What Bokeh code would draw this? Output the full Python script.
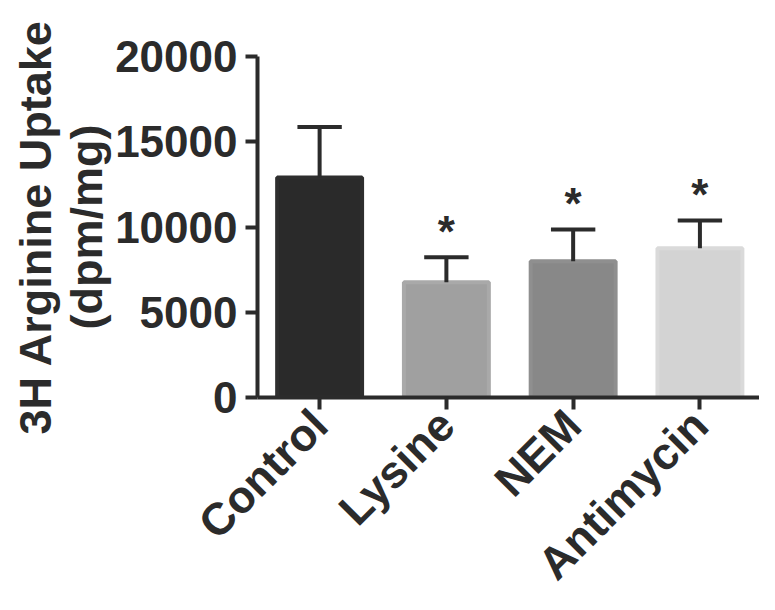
from bokeh.plotting import figure
from bokeh.models import Range1d, FixedTicker, ColumnDataSource
from bokeh.embed import file_html
from bokeh.resources import INLINE
from bokeh.core.properties import value
import math

categories = ["Control", "Lysine", "NEM", "Antimycin"]
means = [12900, 6760, 7990, 8750]
sem = [2960, 1460, 1860, 1630]
significant = [False, True, True, True]
y_ticks = [0, 5000, 10000, 15000, 20000]

fill_colors = ["#2a2a2a", "#a0a0a0", "#888888", "#d3d3d3"]
edge_colors = ["#2e2e2e", "#a9a9a9", "#8f8f8f", "#dadada"]
ink = "#2b2b2b"
font = "Liberation Sans"

xs = list(range(len(categories)))
tops = [m + s for m, s in zip(means, sem)]

p = figure(width=759, height=610, output_backend="svg", toolbar_location=None,
           x_range=Range1d(-0.49, 3.47), y_range=Range1d(0, 20000),
           min_border_left=257, min_border_right=0, min_border_top=56,
           min_border_bottom=211)
p.outline_line_color = None
p.xgrid.grid_line_color = None
p.ygrid.grid_line_color = None
p.background_fill_color = "white"
p.border_fill_color = "white"

src = ColumnDataSource(dict(x=xs, top=means, fill=fill_colors, edge=edge_colors,
                            etop=tops))
p.vbar(x="x", top="top", bottom=0, width=0.67, fill_color="fill",
       line_color="edge", line_width=4, source=src)

# error bars (upward only)
p.segment(x0="x", y0="top", x1="x", y1="etop", line_color=ink, line_width=4,
          source=src)
p.segment(x0=[x - 0.175 for x in xs], y0=tops, x1=[x + 0.175 for x in xs],
          y1=tops, line_color=ink, line_width=4)

# significance stars
star_x = [x for x, s in zip(xs, significant) if s]
star_y = [t + 1500 for t, s in zip(tops, significant) if s]
p.text(x=star_x, y=star_y, text=["*"] * len(star_x), text_align="center",
       text_baseline="middle", text_font=value(font), text_font_style="bold",
       text_font_size="44px", text_color=ink)

# y axis
ya = p.yaxis[0]
ya.ticker = FixedTicker(ticks=y_ticks)
ya.minor_tick_line_color = None
ya.major_tick_in = 0
ya.major_tick_out = 12
ya.major_tick_line_width = 4
ya.major_tick_line_color = ink
ya.axis_line_width = 4
ya.axis_line_color = ink
ya.major_label_text_font = font
ya.major_label_text_font_style = "bold"
ya.major_label_text_font_size = "44px"
ya.major_label_text_color = ink
ya.major_label_standoff = 8
ya.axis_label = "3H Arginine Uptake\n(dpm/mg)"
ya.axis_label_text_font = font
ya.axis_label_text_font_style = "bold"
ya.axis_label_text_font_size = "45px"
ya.axis_label_text_line_height = 1.0
ya.axis_label_text_color = ink
ya.axis_label_standoff = 0

# x axis
xa = p.xaxis[0]
xa.ticker = FixedTicker(ticks=xs)
xa.major_label_overrides = {i: c for i, c in enumerate(categories)}
xa.minor_tick_line_color = None
xa.major_tick_in = 0
xa.major_tick_out = 12
xa.major_tick_line_width = 4
xa.major_tick_line_color = ink
xa.axis_line_width = 4
xa.axis_line_color = ink
xa.major_label_orientation = math.pi / 4
xa.major_label_text_font = font
xa.major_label_text_font_style = "bold"
xa.major_label_text_font_size = "45px"
xa.major_label_text_color = ink
xa.major_label_standoff = 8

open("out.html", "w").write(file_html(p, INLINE))
